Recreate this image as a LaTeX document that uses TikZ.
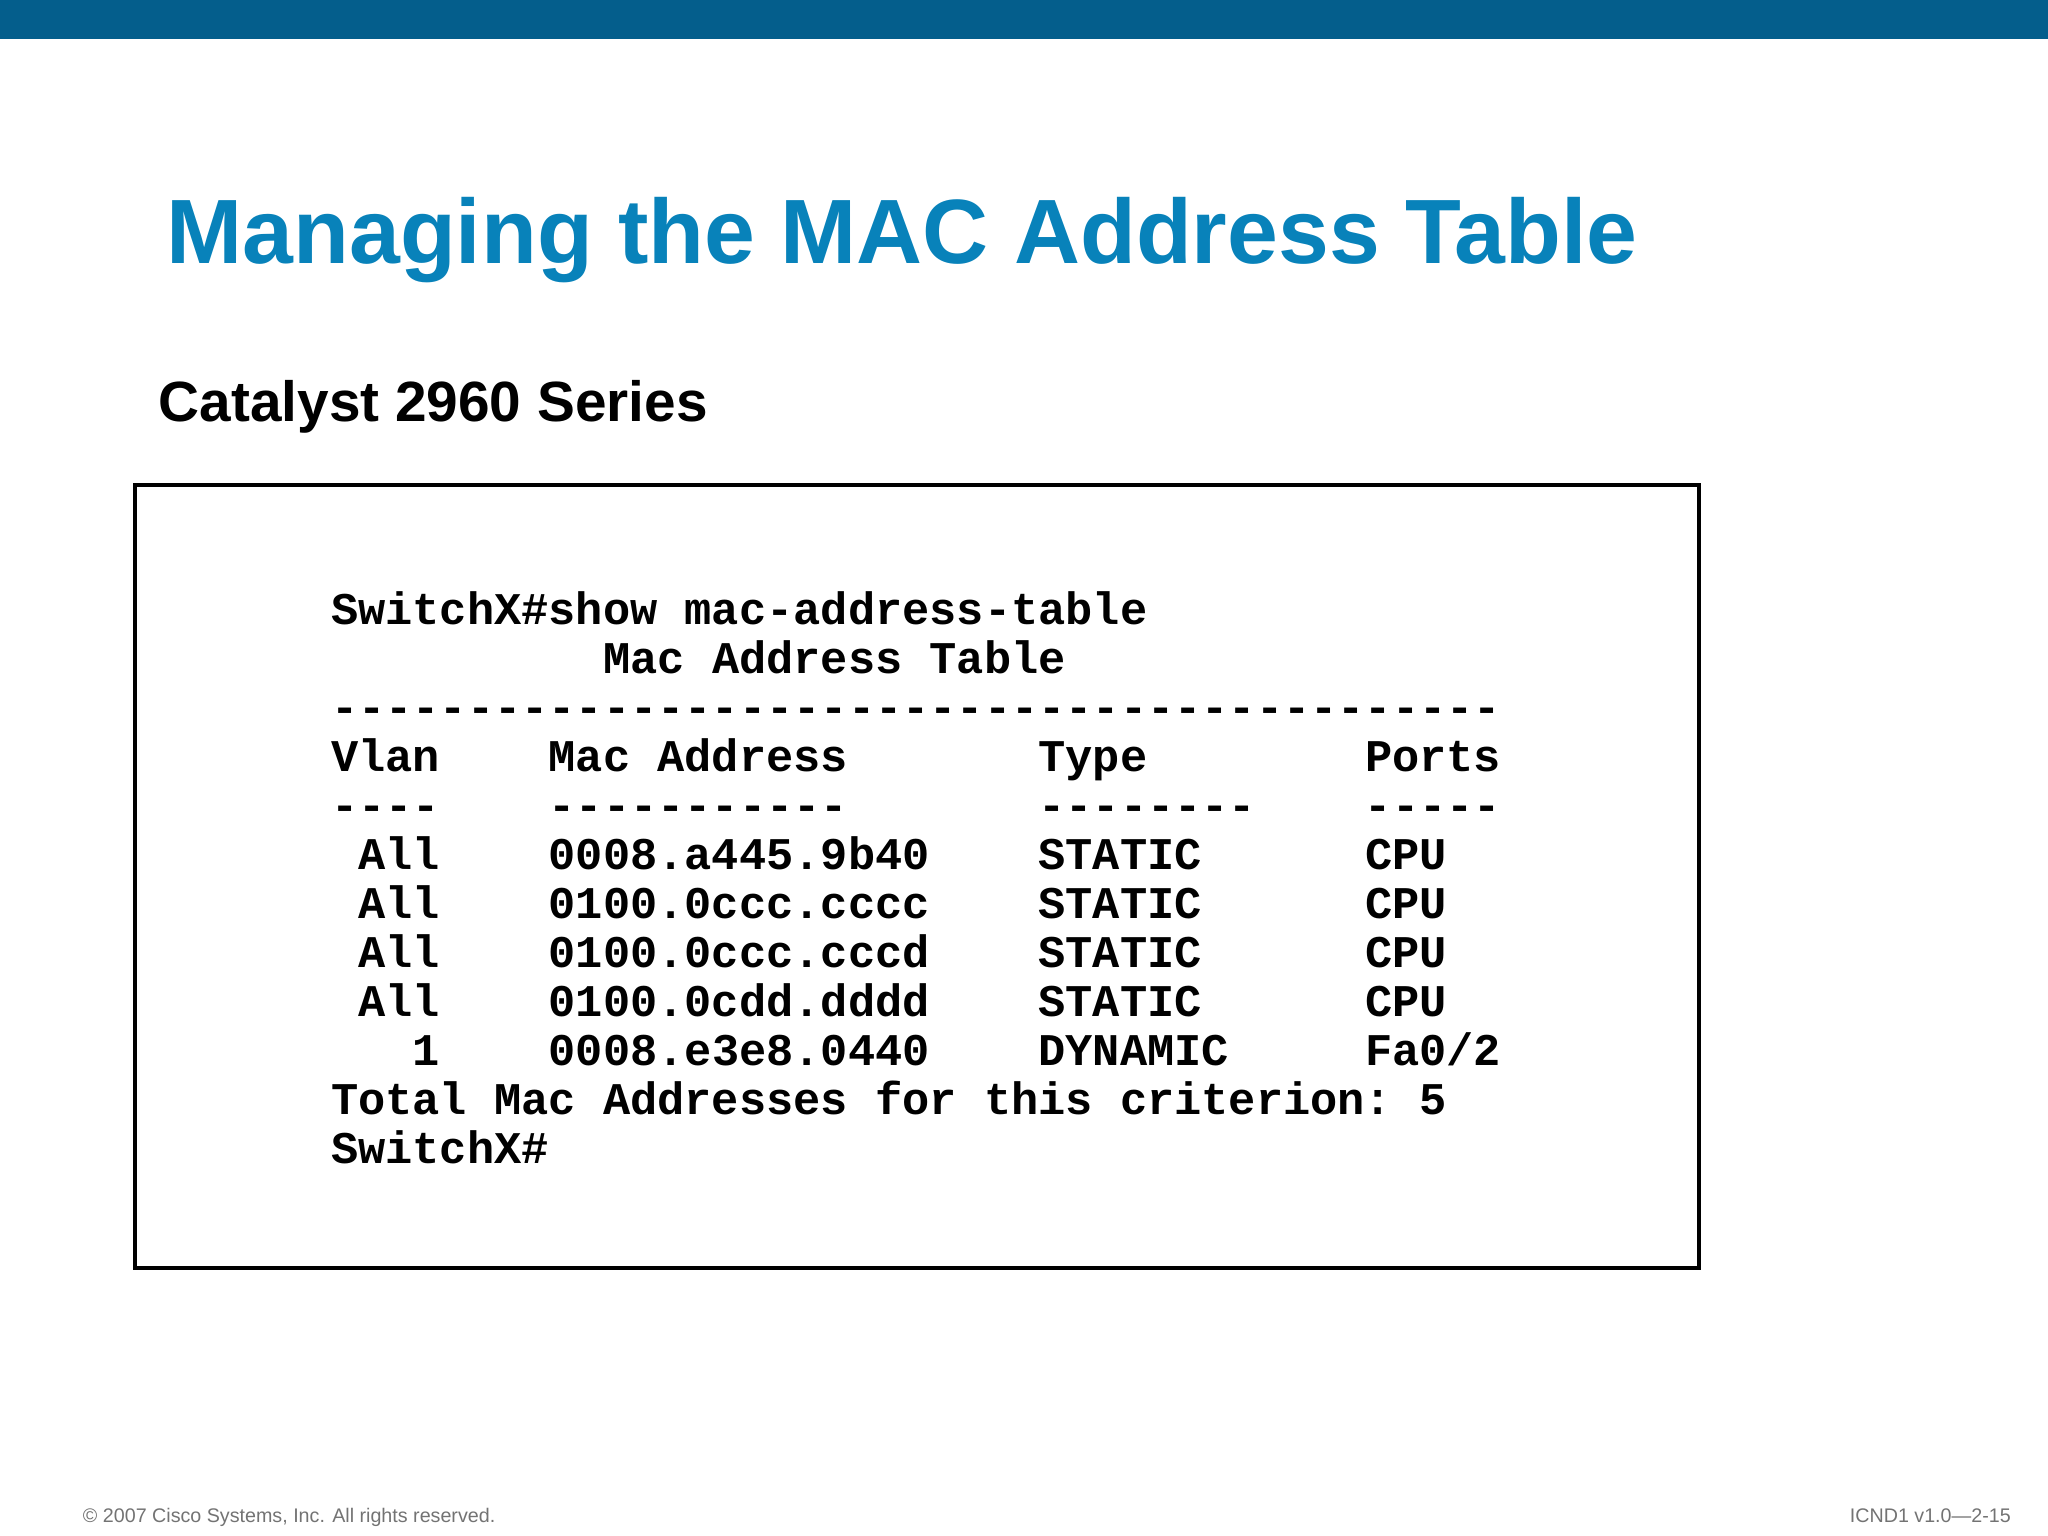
\documentclass[tikz,border=0pt]{standalone}
\usepackage{fontspec}
\setmainfont{Liberation Sans}
\setmonofont{Liberation Mono}
\definecolor{bar}{RGB}{4,94,140}
\definecolor{ttl}{RGB}{8,130,186}
\begin{document}
\begin{tikzpicture}[x=0.013061cm,y=-0.013061cm,
  cli/.style={anchor=base west,inner sep=0,font=\fontsize{12.9pt}{14pt}\ttfamily\bfseries}]
\useasboundingbox (0,0) rectangle (1568,1176);
\fill[bar] (0,0) rectangle (1568,30);
\node[anchor=base west,inner sep=0,text=ttl,font=\fontsize{26pt}{30pt}\bfseries] (title) at (127,202) {Managing the MAC Address Table};
\node[anchor=base west,inner sep=0,font=\fontsize{16.15pt}{20pt}\bfseries] (sub) at (121,323) {Catalyst 2960 Series};
\draw[line width=0.04cm] (103,371) rectangle (1301,971);
\node[cli] (l1) at (253,478) {SwitchX\#show mac-address-table};
\node[cli] (l2) at (253,516) {~~~~~~~~~~Mac~Address~Table};
\node[cli] (l3) at (253,553) {-------------------------------------------};
\node[cli] (l4) at (253,591) {Vlan~~~~Mac~Address~~~~~~~Type~~~~~~~~Ports};
\node[cli] (l5) at (253,628) {----~~~~-----------~~~~~~~--------~~~~-----};
\node[cli] (l6) at (253,666) {~All~~~~0008.a445.9b40~~~~STATIC~~~~~~CPU};
\node[cli] (l7) at (253,703) {~All~~~~0100.0ccc.cccc~~~~STATIC~~~~~~CPU};
\node[cli] (l8) at (253,741) {~All~~~~0100.0ccc.cccd~~~~STATIC~~~~~~CPU};
\node[cli] (l9) at (253,778) {~All~~~~0100.0cdd.dddd~~~~STATIC~~~~~~CPU};
\node[cli] (l10) at (253,816) {~~~1~~~~0008.e3e8.0440~~~~DYNAMIC~~~~~Fa0/2};
\node[cli] (l11) at (253,853) {Total~Mac~Addresses~for~this~criterion:~5};
\node[cli] (l12) at (253,891) {SwitchX\#};
\node[anchor=base west,inner sep=0,text=black!55,font=\fontsize{5.6pt}{6pt}\selectfont] (copy) at (63,1166) {© 2007 Cisco Systems, Inc. All rights reserved.};
\node[anchor=base east,inner sep=0,text=black!55,font=\fontsize{5.6pt}{6pt}\selectfont] (ver) at (1540,1166) {ICND1 v1.0—2-15};
\end{tikzpicture}
\end{document}
